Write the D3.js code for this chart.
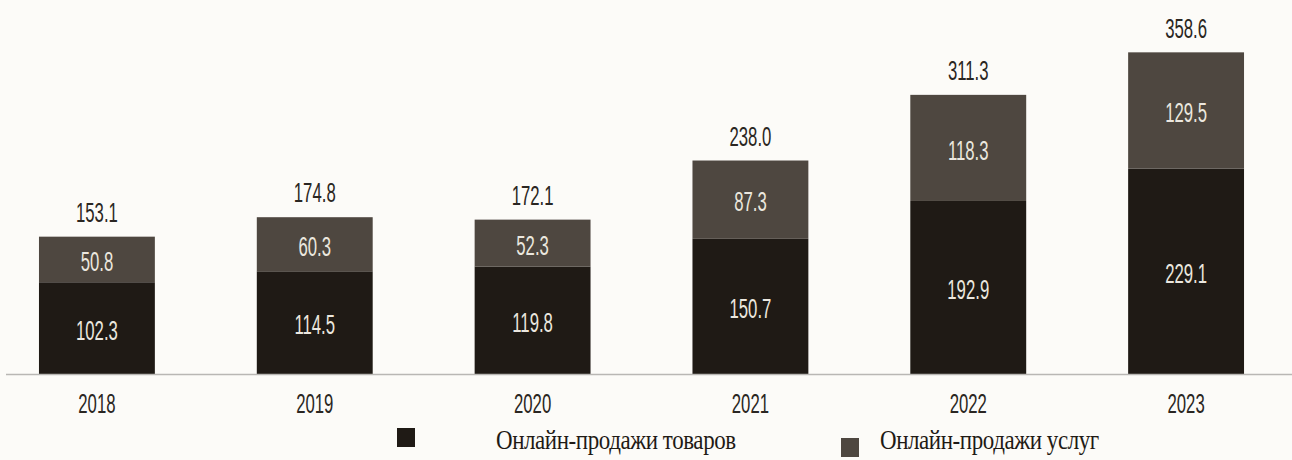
<!DOCTYPE html>
<html><head><meta charset="utf-8">
<script src="https://cdn.jsdelivr.net/npm/d3@7"></script>
<style>
body{margin:0;background:#fcfbf8;}
svg{display:block;}
.num{font-family:"Liberation Sans","Arial",sans-serif;}
.leg{font-family:"Liberation Serif","DejaVu Serif",serif;}
</style></head>
<body><svg id="c" width="1292" height="460"></svg>
<script>
const years = ["2018","2019","2020","2021","2022","2023"];
const goods = [102.3,114.5,119.8,150.7,192.9,229.1];
const services = [50.8,60.3,52.3,87.3,118.3,129.5];
const totals = ["153.1","174.8","172.1","238.0","311.3","358.6"];
const seriesNames = ["Онлайн-продажи товаров","Онлайн-продажи услуг"];
const colors = ["#1f1a15","#4e4740"];

const svg = d3.select("#c");
const baseY=374;
const x = d3.scaleBand().domain(years).range([-12,1295]).paddingInner(0.468).paddingOuter(0.234);
const y = d3.scaleLinear().domain([0,400]).range([baseY, baseY-358.8]);

const data = years.map((yr,i)=>({yr, g:goods[i], s:services[i], t:totals[i]}));
const SX = 0.62, FS = 27;

function label(g, cx, cy, txt, fill){
  g.append("text").attr("class","num")
    .attr("transform",`translate(${cx},${cy}) scale(${SX},1)`)
    .attr("dy","0.36em").attr("text-anchor","middle")
    .attr("font-size",FS).attr("fill",fill).text(txt);
}

const gBars = svg.append("g");
data.forEach(d=>{
  gBars.append("rect").attr("x",x(d.yr)).attr("width",x.bandwidth())
    .attr("y",y(d.g)).attr("height",y(0)-y(d.g)).attr("fill",colors[0]);
  gBars.append("rect").attr("x",x(d.yr)).attr("width",x.bandwidth())
    .attr("y",y(d.g+d.s)).attr("height",y(d.g)-y(d.g+d.s)).attr("fill",colors[1]);
  const cx = x(d.yr)+x.bandwidth()/2;
  label(gBars, cx, (y(0)+y(d.g))/2+2, d.g.toFixed(1), "#ebe7df");
  label(gBars, cx, (y(d.g)+y(d.g+d.s))/2+2, d.s.toFixed(1), "#ebe7df");
  label(gBars, cx, y(d.g+d.s)-24.5, d.t, "#2a2622");
});

// axis
const ax = svg.append("g").attr("transform",`translate(0,${baseY})`)
  .call(d3.axisBottom(x).tickSize(0).tickPadding(0));
ax.select(".domain").attr("stroke","#b9b7b4").attr("stroke-width",1.5).attr("d","M6,0.5H1292");
ax.selectAll(".tick text").attr("class","num").attr("font-size",FS).attr("fill","#2a2622")
  .attr("y",0).attr("dy","0.36em").attr("transform",`translate(0,29) scale(${SX},1)`);

// legend
const leg = svg.append("g");
const legItems = [
  {sx:397, sy:428, tx:496, ty:449},
  {sx:841, sy:438, tx:880, ty:449}
];
legItems.forEach((p,i)=>{
  leg.append("rect").attr("x",p.sx).attr("y",p.sy).attr("width",18).attr("height",19).attr("fill",colors[i]);
  leg.append("text").attr("class","leg")
    .attr("transform",`translate(${p.tx},${p.ty}) scale(0.82,1)`)
    .attr("font-size",28).attr("letter-spacing",-0.5).attr("fill","#1f1a15")
    .text(seriesNames[i]);
});
</script></body></html>
